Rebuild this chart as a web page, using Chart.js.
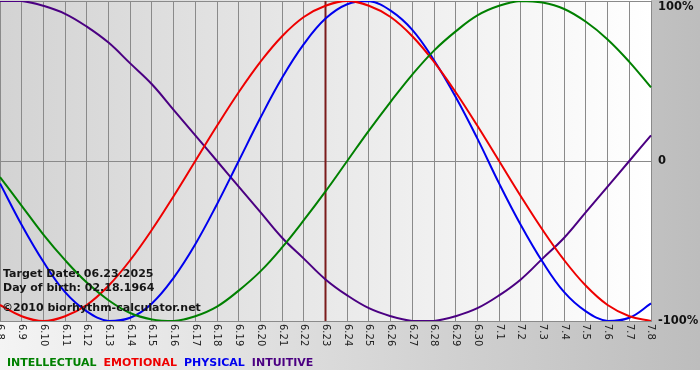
<!DOCTYPE html>
<html>
<head>
<meta charset="utf-8">
<script src="https://cdn.jsdelivr.net/npm/chart.js@4.4.1/dist/chart.umd.min.js"></script>
<style>
  html, body { margin: 0; padding: 0; background: #ffffff; }
  #wrap { width: 700px; height: 370px; }
</style>
</head>
<body>
<div id="wrap"><canvas id="c" width="700" height="370"></canvas></div>
<script>
const dayLabels = ['6.8','6.9','6.10','6.11','6.12','6.13','6.14','6.15','6.16','6.17','6.18','6.19','6.20','6.21','6.22','6.23','6.24','6.25','6.26','6.27','6.28','6.29','6.30','7.1','7.2','7.3','7.4','7.5','7.6','7.7','7.8'];

const intellectual = [-0.10,-0.28,-0.46,-0.62,-0.76,-0.87,-0.95,-0.99,-1.00,-0.97,-0.91,-0.81,-0.69,-0.54,-0.37,-0.19,0.00,0.19,0.37,0.54,0.69,0.81,0.91,0.97,1.00,0.99,0.95,0.87,0.76,0.62,0.46];
const emotional = [-0.90,-0.97,-1.00,-0.97,-0.90,-0.78,-0.62,-0.43,-0.22,0.00,0.22,0.43,0.62,0.78,0.90,0.97,1.00,0.97,0.90,0.78,0.62,0.43,0.22,0.00,-0.22,-0.43,-0.62,-0.78,-0.90,-0.97,-1.00];
const physical = [-0.14,-0.40,-0.63,-0.82,-0.94,-1.00,-0.98,-0.89,-0.73,-0.52,-0.27,0.00,0.27,0.52,0.73,0.89,0.98,1.00,0.94,0.82,0.63,0.40,0.14,-0.14,-0.40,-0.63,-0.82,-0.94,-1.00,-0.98,-0.89];
const intuitive = [1.00,1.00,0.97,0.92,0.84,0.74,0.61,0.48,0.32,0.16,0.00,-0.16,-0.32,-0.48,-0.61,-0.74,-0.84,-0.92,-0.97,-1.00,-1.00,-0.97,-0.92,-0.84,-0.74,-0.61,-0.48,-0.32,-0.16,0.00,0.16];

const seriesNames = ['INTELLECTUAL','EMOTIONAL','PHYSICAL','INTUITIVE'];
const seriesColors = ['#008000','#ee0000','#0000ee','#4b0082'];
const yTickValues = [1, 0, -1];
const yTickLabels = ['100%', '0', '-100%'];
const targetIndex = 15;
const infoLines = ['Target Date: 06.23.2025', 'Day of birth: 02.18.1964', '\u00A92010 biorhythm-calculator.net'];

const seriesData = [intellectual, emotional, physical, intuitive];

const decor = {
  id: 'decor',
  beforeDraw(chart) {
    const ctx = chart.ctx, a = chart.chartArea;
    ctx.save();
    const g = ctx.createLinearGradient(0, 0, chart.width, 0);
    g.addColorStop(0, '#f4f4f4');
    g.addColorStop(1, '#bdbdbd');
    ctx.fillStyle = g;
    ctx.fillRect(0, 0, chart.width, chart.height);
    const g2 = ctx.createLinearGradient(a.left, 0, a.right, 0);
    g2.addColorStop(0, '#d3d3d3');
    g2.addColorStop(1, '#ffffff');
    ctx.fillStyle = g2;
    ctx.fillRect(a.left, 0, a.right - a.left, a.bottom);
    ctx.restore();
  },
  beforeDatasetsDraw(chart) {
    const ctx = chart.ctx, a = chart.chartArea;
    const x = chart.scales.x.getPixelForValue(targetIndex);
    ctx.save();
    ctx.strokeStyle = '#7b1c1c';
    ctx.lineWidth = 2;
    ctx.beginPath();
    ctx.moveTo(x, a.top);
    ctx.lineTo(x, a.bottom);
    ctx.stroke();
    ctx.restore();
  },
  afterDraw(chart) {
    const ctx = chart.ctx, a = chart.chartArea;
    const xs = chart.scales.x, ys = chart.scales.y;
    ctx.save();
    // x tick labels, rotated clockwise
    ctx.fillStyle = '#222222';
    ctx.font = '10px "DejaVu Sans"';
    ctx.textAlign = 'left';
    ctx.textBaseline = 'middle';
    dayLabels.forEach((lab, i) => {
      const x = xs.getPixelForValue(i);
      ctx.save();
      ctx.translate(x, a.bottom + 3);
      ctx.rotate(Math.PI / 2);
      ctx.fillText(lab, 0, 0);
      ctx.restore();
    });
    // y labels on right
    ctx.fillStyle = '#111111';
    ctx.font = 'bold 11.5px "DejaVu Sans"';
    ctx.textBaseline = 'middle';
    yTickValues.forEach((v, i) => {
      let y = ys.getPixelForValue(v);
      y = Math.max(y, a.top + 6);
      ctx.fillText(yTickLabels[i], a.right + 7, y + 0.5);
    });
    // info text
    ctx.fillStyle = '#151515';
    ctx.font = 'bold 11px "DejaVu Sans"';
    ctx.textBaseline = 'alphabetic';
    ctx.fillText(infoLines[0], 3, 277);
    ctx.fillText(infoLines[1], 3, 291);
    ctx.fillText(infoLines[2], 2, 311);
    // legend
    let lx = 7;
    seriesNames.forEach((n, i) => {
      ctx.fillStyle = seriesColors[i];
      ctx.fillText(n, lx, 366);
      lx += ctx.measureText(n).width + 7;
    });
    ctx.restore();
  }
};

new Chart(document.getElementById('c'), {
  type: 'line',
  data: {
    labels: dayLabels,
    datasets: seriesNames.map((n, i) => ({
      label: n,
      data: seriesData[i],
      borderColor: seriesColors[i],
      backgroundColor: seriesColors[i],
      borderWidth: 2,
      pointRadius: 0,
      tension: 0.4,
      fill: false
    }))
  },
  options: {
    responsive: false,
    animation: false,
    devicePixelRatio: 1,
    layout: { padding: { top: 1, left: 0, right: 0, bottom: 0 } },
    plugins: { legend: { display: false }, title: { display: false }, tooltip: { enabled: false } },
    scales: {
      x: {
        type: 'category',
        offset: false,
        grid: { color: '#8a8a8a', lineWidth: 1, drawTicks: false },
        border: { color: '#8a8a8a' },
        ticks: { display: false, autoSkip: false },
        afterFit(s) { s.height = 49; }
      },
      y: {
        position: 'right',
        min: -1, max: 1,
        grid: { color: '#8a8a8a', lineWidth: 1, drawTicks: false },
        border: { color: '#8a8a8a' },
        ticks: { display: false, stepSize: 1 },
        afterFit(s) { s.width = 49; }
      }
    }
  },
  plugins: [decor]
});
</script>
</body>
</html>
